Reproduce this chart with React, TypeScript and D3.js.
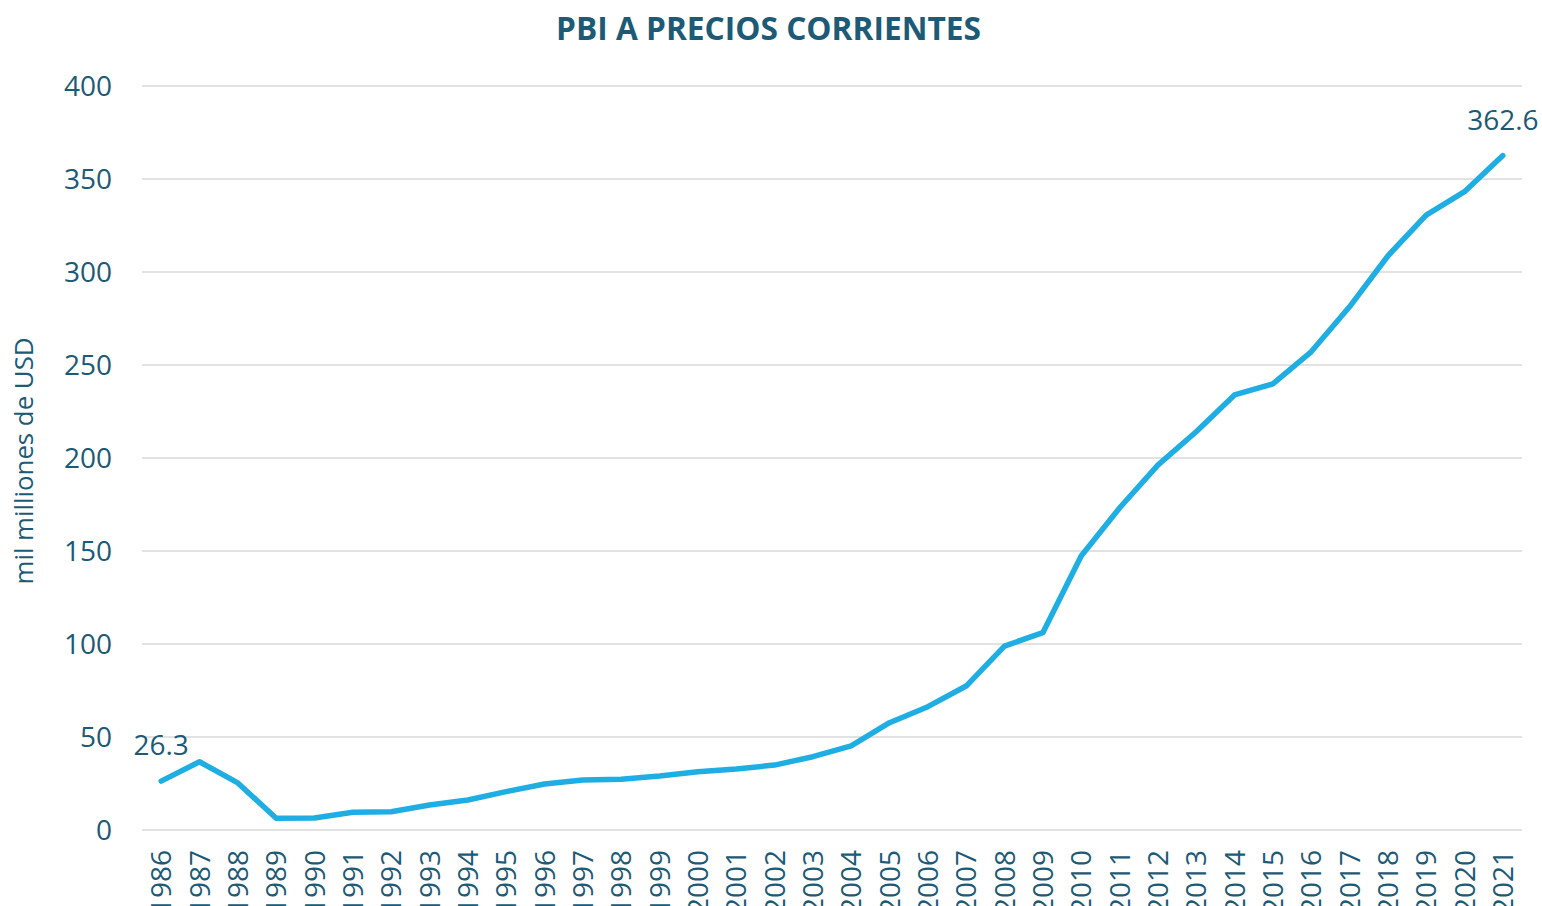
import React from "react";
import * as d3 from "d3";

const years: string[] = [
  "1986","1987","1988","1989","1990","1991","1992","1993","1994","1995",
  "1996","1997","1998","1999","2000","2001","2002","2003","2004","2005",
  "2006","2007","2008","2009","2010","2011","2012","2013","2014","2015",
  "2016","2017","2018","2019","2020","2021",
];
const gdp: number[] = [
  26.3, 36.7, 25.3, 6.3, 6.5, 9.5, 9.8, 13.4, 16.1, 20.6,
  24.7, 26.9, 27.3, 29.0, 31.3, 32.8, 34.9, 39.4, 45.2, 57.7,
  66.3, 77.4, 98.9, 106.1, 147.3, 173.1, 196.2, 214.1, 233.9, 239.8,
  257.1, 281.3, 308.6, 330.6, 343.2, 362.6,
];
const yTicks: number[] = [0, 50, 100, 150, 200, 250, 300, 350, 400];
const labelledIdx: number[] = [0, 35];

const title = "PBI A PRECIOS CORRIENTES";
const yTitle = "mil milliones de USD";

const W = 1542;
const H = 906;
const plot = { left: 142, right: 1522, top: 86, bottom: 830 };
const TEXT = "#1C5A76";
const LINE = "#1FAEE4";
const GRID = "#D9D9D9";
const FONT = "'Open Sans', 'Noto Sans', sans-serif";

export default function App() {
  const x = d3.scaleBand<string>().domain(years).range([plot.left, plot.right]).padding(0);
  const y = d3.scaleLinear().domain([0, 400]).range([plot.bottom, plot.top]);
  const cx = (yr: string) => (x(yr) as number) + x.bandwidth() / 2;
  const line = d3
    .line<number>()
    .x((_, i) => cx(years[i]))
    .y((v) => y(v));

  return (
    <svg
      width={W}
      height={H}
      style={{ position: "absolute", left: 0, top: 0, background: "#fff" }}
      fontFamily={FONT}
    >
      <rect width={W} height={H} fill="#fff" />
      <text
        x={768.5}
        y={40}
        textAnchor="middle"
        fontSize={31.7}
        fontWeight={700}
        fill={TEXT}
      >
        {title}
      </text>
      {yTicks.map((t) => (
        <g key={t}>
          <line x1={plot.left} x2={plot.right} y1={y(t)} y2={y(t)} stroke={GRID} strokeWidth={1.5} />
          <text x={112} y={y(t)} dy="0.357em" textAnchor="end" fontSize={28} fill={TEXT}>
            {t}
          </text>
        </g>
      ))}
      <text
        transform={`translate(33,${461}) rotate(-90)`}
        textAnchor="middle"
        fontSize={25.8}
        fill={TEXT}
      >
        {yTitle}
      </text>
      {years.map((yr) => (
        <text
          key={yr}
          transform={`translate(${cx(yr)},850) rotate(-90)`}
          dy="0.357em"
          textAnchor="end"
          fontSize={28}
          fill={TEXT}
        >
          {yr}
        </text>
      ))}
      <path
        d={line(gdp) as string}
        fill="none"
        stroke={LINE}
        strokeWidth={5.5}
        strokeLinejoin="round"
        strokeLinecap="round"
      />
      {labelledIdx.map((i) => (
        <text
          key={i}
          x={cx(years[i])}
          y={y(gdp[i]) - 26}
          textAnchor="middle"
          fontSize={28}
          fill={TEXT}
        >
          {gdp[i].toFixed(1)}
        </text>
      ))}
    </svg>
  );
}
